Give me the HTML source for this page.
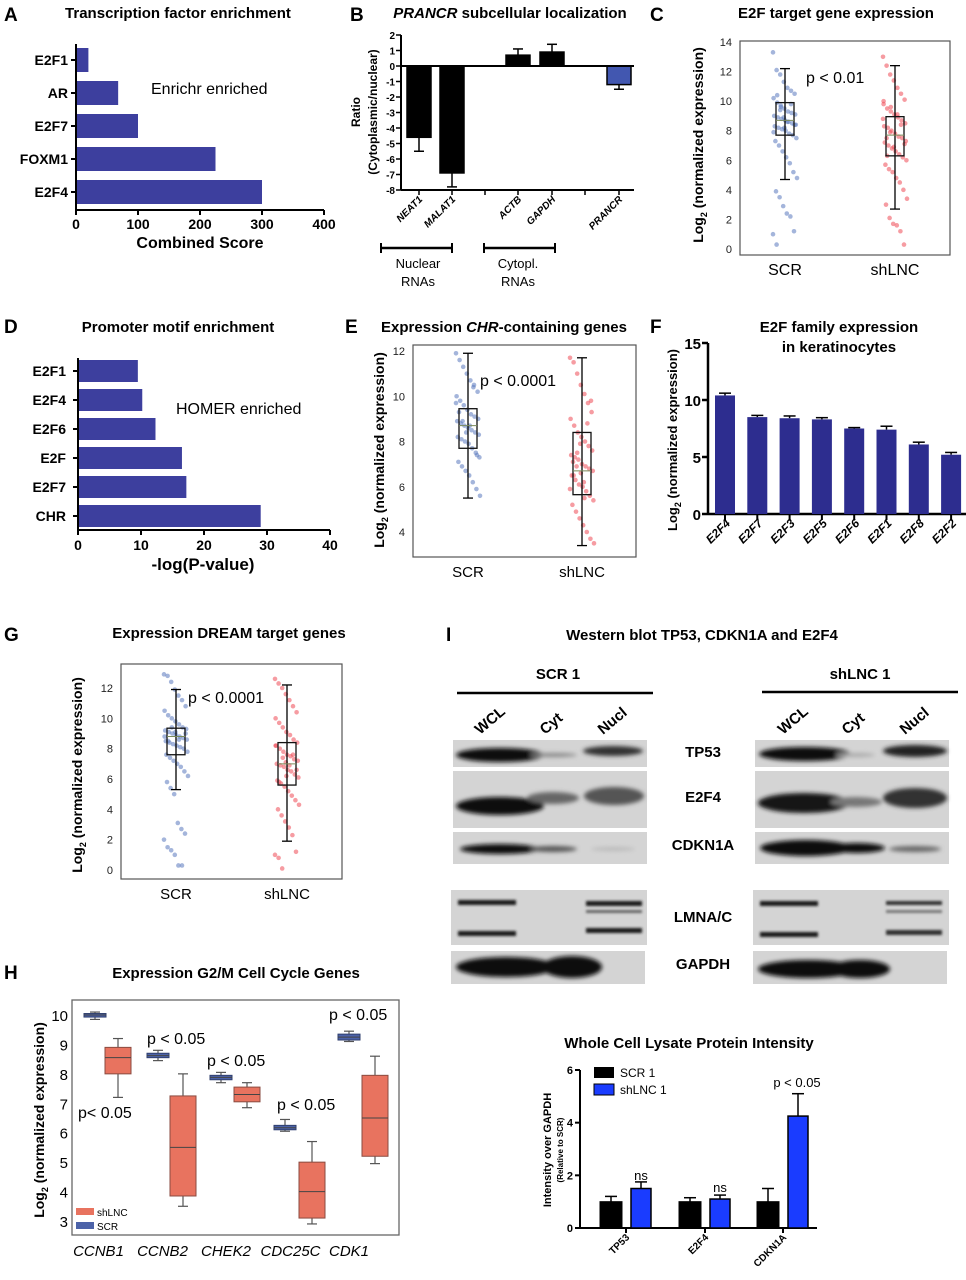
<!DOCTYPE html>
<html><head><meta charset="utf-8">
<style>
html,body{margin:0;padding:0;background:#fff;}
svg{display:block;font-family:"Liberation Sans",Arial,sans-serif;}
.t{font-weight:bold;font-size:15px;}
.L{font-weight:bold;font-size:19px;}
</style></head>
<body>
<svg id="fig" width="966" height="1280" viewBox="0 0 966 1280">
<defs>
<filter id="bl" x="-20%" y="-50%" width="140%" height="200%"><feGaussianBlur stdDeviation="2.2"/></filter>
<filter id="bl2" x="-20%" y="-50%" width="140%" height="200%"><feGaussianBlur stdDeviation="1.2"/></filter>
</defs>
<g class="L">
<text x="4" y="21">A</text><text x="350" y="21">B</text><text x="650" y="21">C</text>
<text x="4" y="333">D</text><text x="345" y="333">E</text><text x="650" y="333">F</text>
<text x="4" y="641">G</text><text x="4" y="979">H</text><text x="446" y="641">I</text>
</g>
<g class="t" text-anchor="middle">
<text x="178" y="18">Transcription factor enrichment</text>
<text x="510" y="18"><tspan font-style="italic">PRANCR</tspan> subcellular localization</text>
<text x="836" y="18">E2F target gene expression</text>
<text x="178" y="332">Promoter motif enrichment</text>
<text x="504" y="332">Expression <tspan font-style="italic">CHR</tspan>-containing genes</text>
<text x="839" y="332">E2F family expression</text>
<text x="839" y="352">in keratinocytes</text>
<text x="229" y="638">Expression DREAM target genes</text>
<text x="236" y="978">Expression G2/M Cell Cycle Genes</text>
<text x="702" y="640">Western blot TP53, CDKN1A and E2F4</text>
<text x="689" y="1048">Whole Cell Lysate Protein Intensity</text>
</g>
<g id="plots"></g>
<g>
<text x="558" y="679" class="t" text-anchor="middle" font-size="14">SCR 1</text>
<text x="860" y="679" class="t" text-anchor="middle" font-size="14">shLNC 1</text>
<line x1="457" y1="693" x2="653" y2="693" stroke="#000" stroke-width="2.5"/>
<line x1="762" y1="692" x2="958" y2="692" stroke="#000" stroke-width="2.5"/>
<g font-weight="bold" font-size="15">
<text transform="translate(480,735) rotate(-40)">WCL</text>
<text transform="translate(545,735) rotate(-40)">Cyt</text>
<text transform="translate(603,735) rotate(-40)">Nucl</text>
<text transform="translate(783,735) rotate(-40)">WCL</text>
<text transform="translate(847,735) rotate(-40)">Cyt</text>
<text transform="translate(905,735) rotate(-40)">Nucl</text>
</g>
<g fill="#d4d4d4">
<rect x="453" y="740" width="194" height="27"/><rect x="453" y="771" width="194" height="57"/><rect x="453" y="832" width="194" height="32"/>
<rect x="451" y="890" width="196" height="55"/><rect x="451" y="951" width="194" height="33"/>
<rect x="755" y="740" width="194" height="27"/><rect x="755" y="771" width="194" height="57"/><rect x="755" y="832" width="194" height="32"/>
<rect x="753" y="890" width="196" height="55"/><rect x="753" y="951" width="194" height="33"/>
</g>
<g filter="url(#bl)" fill="#111">
<ellipse cx="500" cy="755" rx="44" ry="7"/><ellipse cx="553" cy="755" rx="24" ry="2" fill="#888"/><ellipse cx="613" cy="751" rx="30" ry="5" fill="#333"/>
<ellipse cx="500" cy="806" rx="44" ry="9"/><ellipse cx="553" cy="798" rx="26" ry="6" fill="#666"/><ellipse cx="614" cy="796" rx="30" ry="9" fill="#555"/>
<ellipse cx="500" cy="849" rx="40" ry="5"/><ellipse cx="553" cy="849" rx="24" ry="3" fill="#555"/><ellipse cx="613" cy="849" rx="22" ry="2" fill="#bbb"/>
<ellipse cx="805" cy="754" rx="46" ry="7"/><ellipse cx="855" cy="755" rx="20" ry="2" fill="#aaa"/><ellipse cx="915" cy="751" rx="32" ry="6" fill="#222"/>
<ellipse cx="804" cy="803" rx="46" ry="10" fill="#181818"/><ellipse cx="856" cy="802" rx="26" ry="5" fill="#777"/><ellipse cx="915" cy="798" rx="32" ry="10" fill="#333"/>
<ellipse cx="806" cy="848" rx="46" ry="8"/><ellipse cx="857" cy="848" rx="28" ry="5" fill="#111"/><ellipse cx="915" cy="849" rx="26" ry="3" fill="#666"/>
<ellipse cx="506" cy="967" rx="50" ry="10"/><ellipse cx="572" cy="967" rx="30" ry="11"/>
<ellipse cx="808" cy="969" rx="50" ry="9"/><ellipse cx="860" cy="969" rx="30" ry="9"/>
</g>
<g filter="url(#bl2)" fill="#1a1a1a">
<rect x="458" y="900" width="58" height="5"/><rect x="458" y="931" width="58" height="5"/>
<rect x="586" y="901" width="56" height="5"/><rect x="586" y="910" width="56" height="3" fill="#666"/><rect x="586" y="928" width="56" height="5"/>
<rect x="760" y="901" width="58" height="5"/><rect x="760" y="932" width="58" height="5"/>
<rect x="886" y="901" width="56" height="4" fill="#333"/><rect x="886" y="910" width="56" height="3" fill="#777"/><rect x="886" y="930" width="56" height="5" fill="#333"/>
</g>
<g font-weight="bold" font-size="15" text-anchor="middle">
<text x="703" y="757">TP53</text><text x="703" y="802">E2F4</text><text x="703" y="850">CDKN1A</text>
<text x="703" y="922">LMNA/C</text><text x="703" y="969">GAPDH</text>
</g>
</g>
</svg>
<script>
var aCats=["E2F1","AR","E2F7","FOXM1","E2F4"];
var aVals=[20,68,100,225,300];
var aTicks=[0,100,200,300,400];
var bCats=["NEAT1","MALAT1","ACTB","GAPDH","PRANCR"];
var bVals=[-4.6,-6.9,0.7,0.9,-1.2];
var bErr=[0.9,0.9,0.4,0.5,0.3];
var bTicks=[2,1,0,-1,-2,-3,-4,-5,-6,-7,-8];
var dCats=["E2F1","E2F4","E2F6","E2F","E2F7","CHR"];
var dVals=[9.5,10.2,12.3,16.5,17.2,29];
var dTicks=[0,10,20,30,40];
var fCats=["E2F4","E2F7","E2F3","E2F5","E2F6","E2F1","E2F8","E2F2"];
var fVals=[10.4,8.5,8.4,8.3,7.5,7.4,6.1,5.2];
var fErr=[0.2,0.15,0.2,0.15,0.08,0.3,0.2,0.2];
var fTicks=[0,5,10,15];
var cStats=[[4.7,7.7,8.7,9.9,12.2],[2.7,6.3,7.7,8.95,12.4]];
var cScr=[13.3,12.1,11.8,11.3,10.9,10.7,10.5,10.2,9.9,9.7,9.5,9.3,9.2,9.1,9.0,8.9,8.8,8.7,8.6,8.5,8.4,8.3,8.2,8.1,8.0,7.8,7.7,7.5,7.3,7.0,6.6,6.2,5.8,5.2,4.8,3.9,3.5,2.9,2.4,2.2,1.2,1.0,0.3,9.4,8.9,8.6,9.8,8.4,7.9,10.4,9.6,8.2];
var cSh=[13.0,12.4,11.8,11.4,10.9,10.5,10.1,9.8,9.5,9.3,9.1,8.9,8.7,8.5,8.3,8.2,8.0,7.8,7.6,7.5,7.3,7.2,7.0,6.8,6.6,6.4,6.2,6.0,5.7,5.4,5.2,4.8,4.5,4.0,3.4,3.0,2.1,1.7,1.6,1.2,0.3,8.8,7.5,7.9,6.9,9.1,8.4,7.1,10.0,6.3,9.6];
var eStats=[[5.5,7.7,8.7,9.45,11.9],[3.4,5.65,6.7,8.4,11.7]];
var eScr=[11.9,11.6,11.3,11.0,10.7,10.5,10.2,10.0,9.8,9.6,9.4,9.2,9.1,9.0,8.9,8.8,8.7,8.6,8.5,8.4,8.3,8.2,8.1,8.0,7.9,7.7,7.5,7.3,7.1,6.9,6.7,6.5,6.2,5.9,5.6,9.3,8.9,8.4,8.7,10.4,7.4,9.7];
var eSh=[11.7,11.5,11.0,10.5,10.1,9.7,9.3,9.0,8.7,8.4,8.2,8.0,7.8,7.6,7.4,7.3,7.2,7.0,6.9,6.8,6.7,6.5,6.3,6.1,6.0,5.8,5.6,5.4,5.2,4.9,4.6,4.3,4.0,3.7,3.5,7.1,6.9,7.9,6.2,8.8,9.8,5.9,6.5,7.5,6.6,5.5];
var gStats=[[5.3,7.6,8.8,9.35,11.9],[1.9,5.6,7.0,8.4,12.2]];
var gScr=[12.9,12.8,12.4,11.9,11.5,11.2,10.8,10.5,10.2,10.0,9.8,9.6,9.4,9.3,9.2,9.1,9.0,8.9,8.8,8.7,8.6,8.5,8.4,8.3,8.2,8.1,8.0,7.8,7.6,7.4,7.2,7.0,6.8,6.5,6.2,5.8,5.4,5.0,3.1,2.7,2.4,2.0,1.5,1.3,1.0,0.3,0.3,9.0,8.8,8.5,9.4,9.1,8.6];
var gSh=[12.6,12.3,12.0,11.6,11.2,10.8,10.4,10.0,9.7,9.4,9.1,8.9,8.6,8.4,8.2,8.0,7.8,7.6,7.5,7.3,7.2,7.0,6.9,6.8,6.6,6.5,6.3,6.1,5.9,5.7,5.5,5.2,4.9,4.6,4.3,4.0,3.6,3.2,2.8,2.3,1.2,1.0,0.8,0.1,7.1,6.9,7.6,6.6,8.2,5.8,7.4,6.2];
var hCats=["CCNB1","CCNB2","CHEK2","CDC25C","CDK1"];
var hScr=[[9.85,9.93,10.0,10.05,10.1],[8.45,8.55,8.62,8.7,8.8],[7.7,7.8,7.88,7.95,8.05],[6.05,6.1,6.17,6.25,6.45],[9.1,9.15,9.25,9.35,9.45]];
var hSh=[[7.2,8.0,8.55,8.9,9.2],[3.5,3.85,5.5,7.25,8.0],[6.85,7.05,7.3,7.55,7.7],[2.9,3.1,4.0,5.0,5.7],[4.95,5.2,6.5,7.95,8.6]];
var hTicks=[3,4,5,6,7,8,9,10];
var wCats=["TP53","E2F4","CDKN1A"];
var wScr=[1.0,1.0,1.0];
var wScrErr=[0.2,0.15,0.5];
var wSh=[1.5,1.1,4.25];
var wShErr=[0.25,0.15,0.85];
var wTicks=[0,2,4,6];

var NS="http://www.w3.org/2000/svg";
var root=document.getElementById('plots');
function mk(tag,attrs,name,parent){
  var el=document.createElementNS(NS,tag);
  for(var k in attrs) el.setAttribute(k,attrs[k]);
  
  
  (parent||root).appendChild(el);
  return el;
}
function txt(x,y,s,name,attrs){
  var a=attrs||{};a.x=x;a.y=y;
  var el=mk('text',a,name);
  el.textContent=s;
  return el;
}
function lin(x1,y1,x2,y2,name,w,c){
  return mk('line',{x1:x1,y1:y1,x2:x2,y2:y2,stroke:c||'#000','stroke-width':w||1},name);
}
function lin2(x,y){return function(v){return x[0]+(v-y[0])*(x[1]-x[0])/(y[1]-y[0]);};}
var BLUE='#3d3f9e';

// A
(function(){
  var sx=lin2([76,324],[0,400]);
  var yc=[60,93,126,159,192];
  lin(76,44,76,210,'a-y-axis',2);lin(76,210,324,210,'a-x-axis',2);
  for(var i=0;i<aCats.length;i++){
    mk('rect',{x:77,y:yc[i]-12,width:sx(aVals[i])-77,height:24,fill:BLUE},'a-bar-'+aCats[i]);
    lin(71,yc[i],76,yc[i],'a-y-tick',2);
    txt(68,yc[i]+5,aCats[i],'a-cat-label',{'text-anchor':'end','font-weight':'bold','font-size':14});
  }
  for(var j=0;j<aTicks.length;j++){
    var x=sx(aTicks[j]);lin(x,210,x,215,'a-x-tick',2);
    txt(x,229,aTicks[j],'a-tick-label',{'text-anchor':'middle','font-weight':'bold','font-size':14});
  }
  txt(200,248,'Combined Score','a-x-title',{'text-anchor':'middle','font-weight':'bold','font-size':16});
  txt(151,94,'Enrichr enriched','a-annotation',{'font-size':16});
})();

// B
(function(){
  var sy=lin2([66,190],[0,-8]);
  var xc=[419,452,518,552,619];
  lin(401,35,401,190,'b-y-axis',2);lin(401,190,634,190,'b-x-axis',2);
  for(var j=0;j<bTicks.length;j++){
    var y=sy(bTicks[j]);lin(396,y,401,y,'b-y-tick',1.5);
    txt(395,y+4,bTicks[j],'b-tick-label',{'text-anchor':'end','font-weight':'bold','font-size':10});
  }
  for(var i=0;i<bCats.length;i++){
    var v=bVals[i],y0=sy(0),y1=sy(v);
    var e=v<0?sy(v-bErr[i]):sy(v+bErr[i]);
    lin(xc[i],y1,xc[i],e,'b-error',1.5);lin(xc[i]-5,e,xc[i]+5,e,'b-error-cap',1.5);
    mk('rect',{x:xc[i]-12,y:Math.min(y0,y1),width:24,height:Math.abs(y1-y0),fill:i==4?'#4257b0':'#000',stroke:'#000','stroke-width':1.5},'b-bar-'+bCats[i]);
    lin(xc[i],190,xc[i],195,'b-x-tick',1.5);
    txt(xc[i]+4,200,bCats[i],'b-cat-label',{'text-anchor':'end','font-weight':'bold','font-style':'italic','font-size':10,transform:'rotate(-45 '+(xc[i]+4)+' 200)'});
  }
  lin(485,190,485,195,'b-x-tick',1.5);lin(585,190,585,195,'b-x-tick',1.5);
  lin(401,66,634,66,'b-zero-line',2);
  lin(381,248,452,248,'b-bracket-nuclear',2.5);lin(381,243,381,253,'b-bracket-end',2);lin(452,243,452,253,'b-bracket-end',2);
  lin(484,248,555,248,'b-bracket-cytopl',2.5);lin(484,243,484,253,'b-bracket-end',2);lin(555,243,555,253,'b-bracket-end',2);
  txt(418,268,'Nuclear','b-group-label',{'text-anchor':'middle','font-size':13});
  txt(418,286,'RNAs','b-group-label',{'text-anchor':'middle','font-size':13});
  txt(518,268,'Cytopl.','b-group-label',{'text-anchor':'middle','font-size':13});
  txt(518,286,'RNAs','b-group-label',{'text-anchor':'middle','font-size':13});
  txt(0,0,'Ratio','b-y-title',{'text-anchor':'middle','font-weight':'bold','font-size':12,transform:'translate(360,112) rotate(-90)'});
  txt(0,0,'(Cytoplasmic/nuclear)','b-y-title',{'text-anchor':'middle','font-weight':'bold','font-size':12,transform:'translate(377,112) rotate(-90)'});
})();

function boxPanel(p){
  var sy=lin2([p.y0px,p.y1px],[p.ticks[0],p.ticks[p.ticks.length-1]]);
  mk('rect',{x:p.fx,y:p.fy,width:p.fw,height:p.fh,fill:'none',stroke:'#555','stroke-width':1.2},p.id+'-frame');
  for(var j=0;j<p.ticks.length;j++){
    txt(p.fx-8,sy(p.ticks[j])+4,p.ticks[j],p.id+'-tick-label',{'text-anchor':'end','font-size':p.tfs||12,fill:'#222'});
  }
  var cols=['#5a78bd','#ee4a55'];
  for(var g=0;g<2;g++){
    var pts=p.pts[g],cx=p.xc[g];
    for(var i=0;i<pts.length;i++){
      var dx=(((i*7919)%41)-20)/20*p.jit;
      mk('circle',{cx:cx+dx,cy:sy(pts[i]),r:2.3,fill:cols[g],'fill-opacity':0.55},p.id+'-point');
    }
    var s=p.stats[g],w=p.bw;
    lin(cx,sy(s[0]),cx,sy(s[4]),p.id+'-whisker',1.3);
    lin(cx-5,sy(s[0]),cx+5,sy(s[0]),p.id+'-whisker-cap',1.3);
    lin(cx-5,sy(s[4]),cx+5,sy(s[4]),p.id+'-whisker-cap',1.3);
    mk('rect',{x:cx-w/2,y:sy(s[3]),width:w,height:sy(s[1])-sy(s[3]),fill:'none',stroke:'#111','stroke-width':1.3},p.id+'-box-'+g);
    lin(cx-w/2,sy(s[2]),cx+w/2,sy(s[2]),p.id+'-median',1,'#7a8a5a');
    txt(cx,p.fy+p.fh+20,p.labels[g],p.id+'-x-label',{'text-anchor':'middle','font-size':p.lfs||16});
  }
  txt(p.px,p.py,p.ptxt,p.id+'-p-value',{'font-size':16});
  var t=txt(0,0,'',p.id+'-y-title',{'text-anchor':'middle','font-weight':'bold','font-size':p.yfs||14,transform:'translate('+p.ytx+','+p.yty+') rotate(-90)'});
  t.innerHTML='Log<tspan font-size="9" dy="4">2</tspan><tspan dy="-4"> (normalized expression)</tspan>';
}
boxPanel({id:'c',fx:740,fy:41,fw:210,fh:214,y0px:249,y1px:42,ticks:[0,2,4,6,8,10,12,14],xc:[785,895],pts:[cScr,cSh],stats:cStats,bw:18,jit:12,labels:['SCR','shLNC'],px:806,py:83,ptxt:'p < 0.01',ytx:703,yty:145,tfs:11});
boxPanel({id:'e',fx:413,fy:345,fw:223,fh:212,y0px:532,y1px:351,ticks:[4,6,8,10,12],xc:[468,582],pts:[eScr,eSh],stats:eStats,bw:18,jit:12,labels:['SCR','shLNC'],px:480,py:386,ptxt:'p < 0.0001',ytx:384,yty:450,tfs:11,lfs:15});
boxPanel({id:'g',fx:121,fy:664,fw:221,fh:215,y0px:870,y1px:688,ticks:[0,2,4,6,8,10,12],xc:[176,287],pts:[gScr,gSh],stats:gStats,bw:18,jit:12,labels:['SCR','shLNC'],px:188,py:703,ptxt:'p < 0.0001',ytx:82,yty:775,tfs:11,lfs:15});

// D
(function(){
  var sx=lin2([78,330],[0,40]);
  var yc=[371,400,429,458,487,516];
  lin(78,358,78,530,'d-y-axis',2);lin(78,530,330,530,'d-x-axis',2);
  for(var i=0;i<dCats.length;i++){
    mk('rect',{x:79,y:yc[i]-11,width:sx(dVals[i])-79,height:22,fill:BLUE},'d-bar-'+dCats[i]);
    lin(73,yc[i],78,yc[i],'d-y-tick',2);
    txt(66,yc[i]+5,dCats[i],'d-cat-label',{'text-anchor':'end','font-weight':'bold','font-size':14});
  }
  for(var j=0;j<dTicks.length;j++){
    var x=sx(dTicks[j]);lin(x,530,x,535,'d-x-tick',2);
    txt(x,550,dTicks[j],'d-tick-label',{'text-anchor':'middle','font-weight':'bold','font-size':14});
  }
  txt(203,570,'-log(P-value)','d-x-title',{'text-anchor':'middle','font-weight':'bold','font-size':17});
  txt(176,414,'HOMER enriched','d-annotation',{'font-size':16});
})();

// F
(function(){
  var sy=lin2([514,343],[0,15]);
  lin(708,343,708,514,'f-y-axis',2.5);lin(708,514,966,514,'f-x-axis',2.5);
  for(var j=0;j<fTicks.length;j++){
    var y=sy(fTicks[j]);lin(702,y,708,y,'f-y-tick',2.5);
    txt(701,y+6,fTicks[j],'f-tick-label',{'text-anchor':'end','font-weight':'bold','font-size':15});
  }
  for(var i=0;i<fCats.length;i++){
    var cx=725+i*32.3;
    var e=sy(fVals[i]+fErr[i]);
    lin(cx,sy(fVals[i]),cx,e,'f-error',1.5);lin(cx-6,e,cx+6,e,'f-error-cap',1.5);
    mk('rect',{x:cx-10,y:sy(fVals[i]),width:20,height:514-sy(fVals[i]),fill:'#2d2d8f'},'f-bar-'+fCats[i]);
    lin(cx,514,cx,520,'f-x-tick',2);
    txt(cx+6,524,fCats[i],'f-cat-label',{'text-anchor':'end','font-weight':'bold','font-style':'italic','font-size':12,transform:'rotate(-45 '+(cx+6)+' 524)'});
  }
  var t=txt(0,0,'','f-y-title',{'text-anchor':'middle','font-weight':'bold','font-size':13,transform:'translate(677,440) rotate(-90)'});
  t.innerHTML='Log<tspan font-size="9" dy="4">2</tspan><tspan dy="-4"> (normalized expression)</tspan>';
})();

// H
(function(){
  var sy=lin2([1221,1015],[3,10]);
  mk('rect',{x:72,y:1000,width:327,height:235,fill:'none',stroke:'#666','stroke-width':1.3},'h-frame');
  for(var j=0;j<hTicks.length;j++) txt(68,sy(hTicks[j])+6,hTicks[j],'h-tick-label',{'text-anchor':'end','font-size':15});
  var xs=[95,158,221,285,349],xr=[118,183,247,312,375];
  function box(cx,s,w,fill,stroke,name){
    lin(cx,sy(s[0]),cx,sy(s[4]),name+'-whisker',1.2,'#555');
    lin(cx-5,sy(s[0]),cx+5,sy(s[0]),name+'-cap',1.2,'#555');
    lin(cx-5,sy(s[4]),cx+5,sy(s[4]),name+'-cap',1.2,'#555');
    mk('rect',{x:cx-w/2,y:sy(s[3]),width:w,height:Math.max(sy(s[1])-sy(s[3]),3),fill:fill,stroke:stroke,'stroke-width':1},name);
    lin(cx-w/2,sy(s[2]),cx+w/2,sy(s[2]),name+'-median',1,'#444');
  }
  for(var i=0;i<hCats.length;i++){
    box(xs[i],hScr[i],22,'#4c62a8','#2f3f6e','h-box-scr-'+hCats[i]);
    box(xr[i],hSh[i],26,'#e8735f','#8a4b40','h-box-shlnc-'+hCats[i]);
    txt((xs[i]+xr[i])/2-8+(i==4?-5:0),1256,hCats[i],'h-x-label',{'text-anchor':'middle','font-style':'italic','font-size':15});
  }
  txt(78,1118,'p< 0.05','h-p-value',{'font-size':16});
  txt(147,1044,'p < 0.05','h-p-value',{'font-size':16});
  txt(207,1066,'p < 0.05','h-p-value',{'font-size':16});
  txt(277,1110,'p < 0.05','h-p-value',{'font-size':16});
  txt(329,1020,'p < 0.05','h-p-value',{'font-size':16});
  mk('rect',{x:76,y:1208,width:18,height:7,fill:'#e8735f'},'h-legend-swatch-shlnc');
  txt(97,1216,'shLNC','h-legend-label',{'font-size':10});
  mk('rect',{x:76,y:1222,width:18,height:7,fill:'#4c62a8'},'h-legend-swatch-scr');
  txt(97,1230,'SCR','h-legend-label',{'font-size':10});
  var t=txt(0,0,'','h-y-title',{'text-anchor':'middle','font-weight':'bold','font-size':14,transform:'translate(44,1120) rotate(-90)'});
  t.innerHTML='Log<tspan font-size="9" dy="4">2</tspan><tspan dy="-4"> (normalized expression)</tspan>';
})();

// W
(function(){
  var sy=lin2([1228,1070],[0,6]);
  lin(580,1070,580,1228,'w-y-axis',2);lin(580,1228,817,1228,'w-x-axis',2);
  for(var j=0;j<wTicks.length;j++){
    var y=sy(wTicks[j]);lin(575,y,580,y,'w-y-tick',2);
    txt(573,y+4,wTicks[j],'w-tick-label',{'text-anchor':'end','font-weight':'bold','font-size':11});
  }
  var xs=[611,690,768],xr=[641,720,798];
  for(var i=0;i<wCats.length;i++){
    var e1=sy(wScr[i]+wScrErr[i]),e2=sy(wSh[i]+wShErr[i]);
    lin(xs[i],sy(wScr[i]),xs[i],e1,'w-error',1.5);lin(xs[i]-6,e1,xs[i]+6,e1,'w-error-cap',1.5);
    lin(xr[i],sy(wSh[i]),xr[i],e2,'w-error',1.5);lin(xr[i]-6,e2,xr[i]+6,e2,'w-error-cap',1.5);
    mk('rect',{x:xs[i]-11,y:sy(wScr[i]),width:22,height:1228-sy(wScr[i]),fill:'#000',stroke:'#000'},'w-bar-scr-'+wCats[i]);
    mk('rect',{x:xr[i]-10,y:sy(wSh[i]),width:20,height:1228-sy(wSh[i]),fill:'#1a3cff',stroke:'#000','stroke-width':1.5},'w-bar-shlnc-'+wCats[i]);
    var cx=(xs[i]+xr[i])/2;
    lin(cx,1228,cx,1233,'w-x-tick',2);
    txt(cx+4,1238,wCats[i],'w-cat-label',{'text-anchor':'end','font-weight':'bold','font-size':10,transform:'rotate(-45 '+(cx+4)+' 1238)'});
  }
  txt(641,1180,'ns','w-ns',{'text-anchor':'middle','font-size':13});
  txt(720,1192,'ns','w-ns',{'text-anchor':'middle','font-size':13});
  txt(797,1087,'p < 0.05','w-p-value',{'text-anchor':'middle','font-size':13});
  mk('rect',{x:594,y:1067,width:20,height:11,fill:'#000'},'w-legend-swatch-scr');
  txt(620,1077,'SCR 1','w-legend-label',{'font-size':12});
  mk('rect',{x:594,y:1084,width:20,height:11,fill:'#1a3cff',stroke:'#000'},'w-legend-swatch-shlnc');
  txt(620,1094,'shLNC 1','w-legend-label',{'font-size':12});
  txt(0,0,'Intensity over GAPDH','w-y-title',{'text-anchor':'middle','font-weight':'bold','font-size':11,transform:'translate(551,1150) rotate(-90)'});
  txt(0,0,'(Relative to SCR)','w-y-subtitle',{'text-anchor':'middle','font-weight':'bold','font-size':8,transform:'translate(563,1150) rotate(-90)'});
})();
</script>
</body></html>
